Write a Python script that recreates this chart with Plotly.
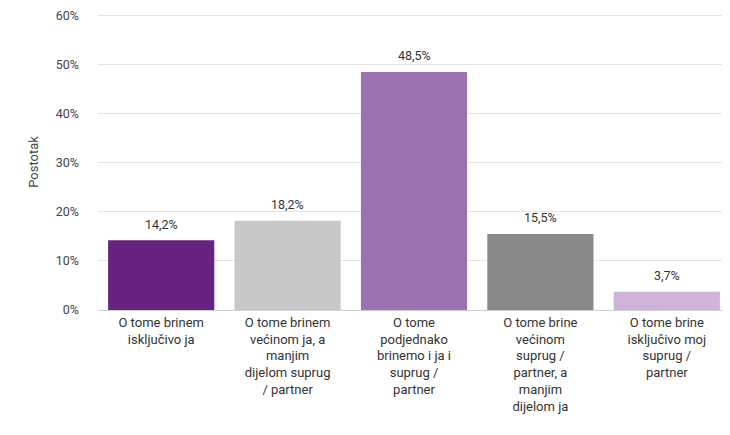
import plotly.graph_objects as go

categories = [
    "O tome brinem<br>isključivo ja",
    "O tome brinem<br>većinom ja, a<br>manjim<br>dijelom suprug<br>/ partner",
    "O tome<br>podjednako<br>brinemo i ja i<br>suprug /<br>partner",
    "O tome brine<br>većinom<br>suprug /<br>partner, a<br>manjim<br>dijelom ja",
    "O tome brine<br>isključivo moj<br>suprug /<br>partner",
]
values = [14.2, 18.2, 48.5, 15.5, 3.7]
labels = ["14,2%", "18,2%", "48,5%", "15,5%", "3,7%"]
colors = ["#67227F", "#C8C8C8", "#9B72AF", "#898989", "#CDB4D8"]
y_ticks = [0, 10, 20, 30, 40, 50, 60]
y_tick_text = ["0%", "10%", "20%", "30%", "40%", "50%", "60%"]

fig = go.Figure(go.Bar(
    x=categories, y=values,
    marker=dict(color=colors, line=dict(width=0)),
    hoverinfo="skip",
))
for cat, val, lab in zip(categories, values, labels):
    fig.add_annotation(x=cat, y=val, text=lab, showarrow=False, yanchor="middle", yshift=16,
                       font=dict(size=12.5, color="#333333"))
fig.update_layout(
    width=722, height=427,
    margin=dict(l=90, r=0, t=6, b=125),
    paper_bgcolor="white", plot_bgcolor="white",
    font=dict(family="Roboto", size=13, color="#333333"),
    bargap=0.16,
    showlegend=False,
    xaxis=dict(showline=True, linecolor="#d0d0d0", linewidth=1, tickfont=dict(size=13, color="#333333"),
               ticks="", showgrid=False),
    yaxis=dict(range=[0, 60.3], tickvals=y_ticks, ticktext=y_tick_text, showgrid=True, gridcolor="#e4e4e4",
               zeroline=False, tickfont=dict(size=12.5, color="#444444"),
               title=dict(text="Postotak", font=dict(size=13, color="#444444"), standoff=14),
               ticklabelstandoff=18, ticklabeloverflow="allow"),
)
fig.write_html("out.html")
